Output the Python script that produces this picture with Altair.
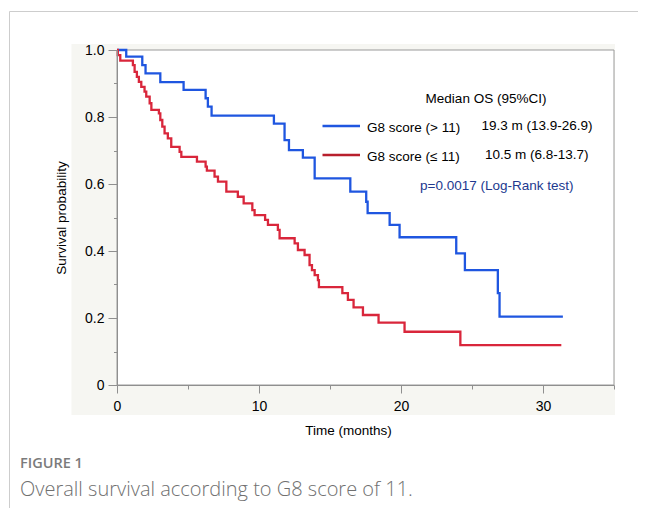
import altair as alt
import pandas as pd

# ---- data ----
groups = ["G8 score (> 11)", "G8 score (≤ 11)"]
medians = ["19.3 m (13.9-26.9)", "10.5 m (6.8-13.7)"]
legend_title = "Median OS (95%CI)"
p_text = "p=0.0017 (Log-Rank test)"
fig_label = "FIGURE 1"
caption = "Overall survival according to G8 score of 11."

blue_t = [0, 0.65, 1.78, 2.01, 3.05, 4.69, 6.24, 6.40, 6.66, 11.05, 11.80, 12.11,
          13.09, 13.92, 16.43, 17.55, 17.65, 19.20, 19.90, 23.89, 24.50, 26.82, 26.94, 31.40]
blue_s = [1.0, 0.980, 0.955, 0.930, 0.904, 0.881, 0.856, 0.831, 0.804, 0.780, 0.731, 0.701,
          0.679, 0.617, 0.577, 0.547, 0.513, 0.478, 0.441, 0.393, 0.343, 0.274, 0.204, 0.204]

red_t = [0, 0.06, 0.23, 1.12, 1.24, 1.40, 1.54, 1.71, 1.94, 2.06,
         2.30, 2.42, 2.95, 3.05, 3.19, 3.35, 3.58, 3.82, 4.41, 4.53,
         5.63, 6.24, 6.33, 6.87, 7.11, 7.70, 8.51, 8.92, 9.53, 9.69,
         10.43, 10.63, 11.33, 11.45, 12.51, 12.74, 13.21, 13.56, 13.73, 13.92,
         14.15, 14.22, 15.87, 16.26, 16.66, 17.32, 18.42, 20.25, 24.18, 31.29]
red_s = [1.0, 0.985, 0.968, 0.955, 0.935, 0.920, 0.905, 0.890, 0.876, 0.861,
         0.841, 0.821, 0.811, 0.791, 0.771, 0.751, 0.736, 0.711, 0.696, 0.681,
         0.667, 0.652, 0.640, 0.622, 0.607, 0.577, 0.562, 0.542, 0.522, 0.507,
         0.493, 0.478, 0.463, 0.438, 0.423, 0.403, 0.388, 0.358, 0.343, 0.328,
         0.313, 0.292, 0.274, 0.254, 0.232, 0.209, 0.186, 0.159, 0.119, 0.119]

x_ticks = [0, 5, 10, 15, 20, 25, 30, 35]
y_ticks = [0, 0.1, 0.2, 0.3, 0.4, 0.5, 0.6, 0.7, 0.8, 0.9, 1.0]

# ---- styling ----
curve_colors = ["#1f56e0", "#d9263b"]
legend_colors = ["#1f56e0", "#b81f2c"]
AX = "#8f8f8f"
FONT = "Liberation Sans"
FS = 13.5
LFS = 14
W, H = 497, 335

curve_df = pd.DataFrame({
    "t": blue_t + red_t,
    "s": blue_s + red_s,
    "g": [groups[0]] * len(blue_t) + [groups[1]] * len(red_t),
})
one = pd.DataFrame({"k": [0]})

frame_top = alt.Chart(one).mark_rule(color="#cdcdcd", strokeWidth=1).encode(
    x=alt.value(-107.5), x2=alt.value(540), y=alt.value(-38.5))
frame_left = alt.Chart(one).mark_rule(color="#cdcdcd", strokeWidth=1).encode(
    x=alt.value(-107.5), y=alt.value(-38.5), y2=alt.value(460))

bg = alt.Chart(one).mark_rect(fill="#f6f6f2").encode(
    x=alt.value(-45.5), x2=alt.value(498), y=alt.value(-6), y2=alt.value(365))
plot_bg = alt.Chart(one).mark_rect(fill="white", stroke="#9a9a9a", strokeWidth=1).encode(
    x=alt.value(0), x2=alt.value(W), y=alt.value(0), y2=alt.value(H))

x_axis = alt.Axis(
    values=x_ticks, title="Time (months)", grid=False, zindex=1,
    labelExpr="datum.value % 10 === 0 ? datum.label : ''",
    tickSize={"condition": {"test": "datum.value % 10 === 0", "value": 8}, "value": 4},
    domainColor=AX, tickColor=AX, labelColor="black", labelFont=FONT, labelFontSize=LFS,
    labelPadding=6, labelFlush=False, labelOverlap=False,
    titleFont=FONT, titleFontSize=FS, titleFontWeight="normal", titleColor="black",
    titleX=231, titleY=45, titleAlign="center", titleBaseline="middle")

y_axis = alt.Axis(
    values=y_ticks, title="Survival probability", grid=False, zindex=1,
    labelExpr="datum.value === 0 ? '0' : (round(datum.value * 10) % 2 === 0 ? format(datum.value, '.1f') : '')",
    tickSize={"condition": {"test": "round(datum.value * 10) % 2 === 0", "value": 9}, "value": 3.5},
    domainColor=AX, tickColor=AX, labelColor="black", labelFont=FONT, labelFontSize=LFS,
    labelPadding=4, labelFlush=False, labelOverlap=False,
    titleFont=FONT, titleFontSize=FS, titleFontWeight="normal", titleColor="black",
    titleAngle=-90, titleX=-56, titleY=H / 2, titleAlign="center", titleBaseline="middle")

curves = alt.Chart(curve_df).mark_line(interpolate="step-after", strokeWidth=2.3).encode(
    x=alt.X("t:Q", scale=alt.Scale(domain=[0, 35], nice=False, zero=False), axis=x_axis),
    y=alt.Y("s:Q", scale=alt.Scale(domain=[0, 1], nice=False), axis=y_axis),
    color=alt.Color("g:N", scale=alt.Scale(domain=groups, range=curve_colors), legend=None),
)


def txt(s, x, y, color="black", align="left", size=FS, font=FONT, weight="normal", baseline="middle"):
    return alt.Chart(one).mark_text(align=align, baseline=baseline, font=font, fontSize=size,
                                    fontWeight=weight, color=color).encode(
        x=alt.value(x), y=alt.value(y), text=alt.value(s))


leg_line_b = alt.Chart(one).mark_rule(color=legend_colors[0], strokeWidth=2.3).encode(
    x=alt.value(205.5), x2=alt.value(243), y=alt.value(76))
leg_line_r = alt.Chart(one).mark_rule(color=legend_colors[1], strokeWidth=2.3).encode(
    x=alt.value(205.5), x2=alt.value(243), y=alt.value(105))

layers = [
    frame_top, frame_left, bg, plot_bg, curves,
    txt(legend_title, 369, 49, align="center"),
    leg_line_b, leg_line_r,
    txt(groups[0], 250, 77.5),
    txt(medians[0], 364.5, 76),
    txt(groups[1], 250, 106.5),
    txt(medians[1], 368, 105),
    txt(p_text, 303, 135.5, color="#22398f"),
    txt(fig_label, -97, 418, color="#7b7b7b", size=14.5, font="Open Sans", weight=600,
        baseline="alphabetic"),
    txt(caption, -97, 445.5, color="#707070", size=20, font="Open Sans", weight=300,
        baseline="alphabetic"),
]

chart = alt.layer(*layers).properties(
    width=W, height=H,
    autosize=alt.AutoSizeParams(type="none"),
    padding={"left": 109, "top": 42, "right": 24, "bottom": 123},
    background="white",
).configure_view(strokeWidth=0)

chart.save("out.html", embed_options={"renderer": "svg", "actions": False})
